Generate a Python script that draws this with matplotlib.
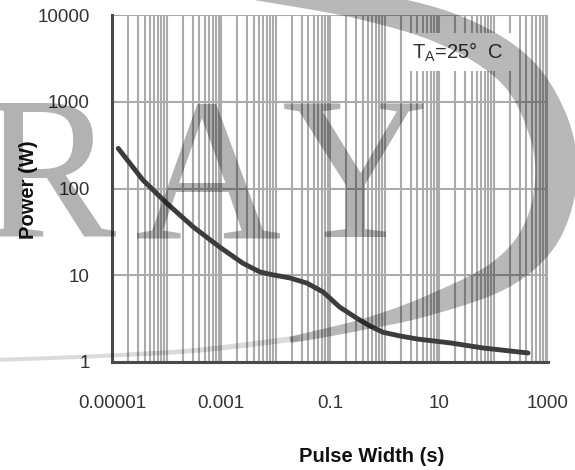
import numpy as np
import matplotlib
matplotlib.use("Agg")
import matplotlib.pyplot as plt
from matplotlib.ticker import LogLocator, NullLocator, NullFormatter, FixedLocator, FixedFormatter
from matplotlib.patches import Polygon

plt.rcParams['font.family'] = ['Liberation Sans', 'DejaVu Sans']
plt.rcParams['mathtext.fontset'] = 'custom'
plt.rcParams['mathtext.rm'] = 'Liberation Sans'

# peak pulse power vs pulse width
pulse_width = [1.3e-5, 3.7e-5, 1.0e-4, 3.1e-4, 9.6e-4, 2.5e-3, 5.2e-3, 9e-3, 1.85e-2,
               3.8e-2, 7.5e-2, 0.15, 0.31, 0.54, 0.94, 1.9, 4.0, 16, 65, 430]
power = [290, 125, 68, 36, 21, 13.8, 10.9, 10.1, 9.3,
         8.1, 6.4, 4.3, 3.2, 2.6, 2.2, 2.0, 1.84, 1.66, 1.45, 1.27]

x_ticks = [1e-5, 1e-3, 1e-1, 10, 1000]
x_labels = ['0.00001', '0.001', '0.1', '10', '1000']
y_ticks = [1, 10, 100, 1000, 10000]
y_labels = ['1', '10', '100', '1000', '10000']

W, H = 575, 470
fig = plt.figure(figsize=(W / 100, H / 100), dpi=100)
ax = fig.add_axes([112 / W, 1 - 362 / H, 436 / W, 347 / H])

ax.plot(pulse_width, power, color='#3c3c3c', lw=3.5, solid_capstyle='round', zorder=3)

ax.set_xscale('log')
ax.set_yscale('log')
ax.set_xlim(1e-5, 1000)
ax.set_ylim(1, 10000)

ax.xaxis.set_major_locator(FixedLocator(x_ticks))
ax.xaxis.set_major_formatter(FixedFormatter(x_labels))
ax.xaxis.set_minor_locator(LogLocator(base=10, subs=np.arange(1, 10), numticks=100))
ax.xaxis.set_minor_formatter(NullFormatter())
ax.yaxis.set_major_locator(FixedLocator(y_ticks))
ax.yaxis.set_major_formatter(FixedFormatter(y_labels))
ax.yaxis.set_minor_locator(NullLocator())

ax.grid(True, which='both', axis='x', color='#ababab', lw=1.5)
ax.grid(True, which='major', axis='y', color='#ababab', lw=1.5)
ax.set_axisbelow(True)

ax.tick_params(axis='both', which='both', length=0, labelsize=13.5, labelcolor='#333333')
ax.tick_params(axis='x', pad=24)
ax.tick_params(axis='y', pad=16)

for s in ['top', 'right']:
    ax.spines[s].set_visible(False)
for s in ['left', 'bottom']:
    ax.spines[s].set_color('#4a4a4a')
    ax.spines[s].set_linewidth(2.2)
    ax.spines[s].set_zorder(4)

fig.text(372 / W, 1 - 457 / H, 'Pulse Width (s)', fontsize=14.5, fontweight='bold',
         ha='center', va='center', color='#111111')
fig.text(28 / W, 1 - 190 / H, 'Power (W)', fontsize=14.5, fontweight='bold',
         ha='center', va='center', rotation=90, color='#111111')

ax.text(0.688, 0.893, r'T$_\mathregular{A}$=25°  C', transform=ax.transAxes,
        fontsize=14.5, color='#333333', ha='left', va='center', zorder=5,
        bbox=dict(boxstyle='square,pad=0.35', fc='white', ec='none'))

# logo watermark: serif letters plus a swoosh
wm_kw = dict(family='Liberation Serif', fontsize=146, color='black', alpha=0.3,
             ha='center', va='baseline', zorder=10)
for ch, cx in [('R', 48), ('A', 208), ('Y', 355)]:
    fig.text(cx / W, 1 - 237 / H, ch, **wm_kw)


def catmull(pts, n=24):
    p = np.vstack([pts[0], pts, pts[-1]])
    out = []
    for i in range(1, len(p) - 2):
        p0, p1, p2, p3 = p[i - 1], p[i], p[i + 1], p[i + 2]
        for s in np.linspace(0, 1, n, endpoint=False):
            out.append(0.5 * (2 * p1 + (-p0 + p2) * s + (2 * p0 - 5 * p1 + 4 * p2 - p3) * s ** 2
                              + (-p0 + 3 * p1 - 3 * p2 + p3) * s ** 3))
    out.append(p[-2])
    return np.array(out)


def band(pts, widths, n=24):
    c = catmull(pts, n)
    w = np.interp(np.arange(len(c)) / n, np.arange(len(widths)), widths)
    d = np.gradient(c, axis=0)
    nrm = np.column_stack([-d[:, 1], d[:, 0]])
    nrm /= np.linalg.norm(nrm, axis=1, keepdims=True)
    poly = np.vstack([c + nrm * w[:, None] / 2, (c - nrm * w[:, None] / 2)[::-1]])
    poly[:, 0] /= W
    poly[:, 1] = 1 - poly[:, 1] / H
    return poly


arc_pts = np.array([(250, -12), (360, 5), (450, 30), (515, 70), (548, 125), (556, 180),
                    (540, 235), (500, 275), (430, 305), (365, 324), (290, 340)], dtype=float)
arc_w = np.array([22, 28, 34, 38, 42, 42, 38, 30, 20, 11, 6], dtype=float)
tail_pts = np.array([(300, 338), (200, 350), (100, 356), (-5, 360)], dtype=float)
tail_w = np.array([6, 5, 4, 4], dtype=float)

fig.patches.append(Polygon(band(arc_pts, arc_w), closed=True, transform=fig.transFigure,
                           fc='black', ec='none', alpha=0.28, zorder=10))
fig.patches.append(Polygon(band(tail_pts, tail_w), closed=True, transform=fig.transFigure,
                           fc='black', ec='none', alpha=0.14, zorder=10))

fig.savefig('out.png', dpi=100)
